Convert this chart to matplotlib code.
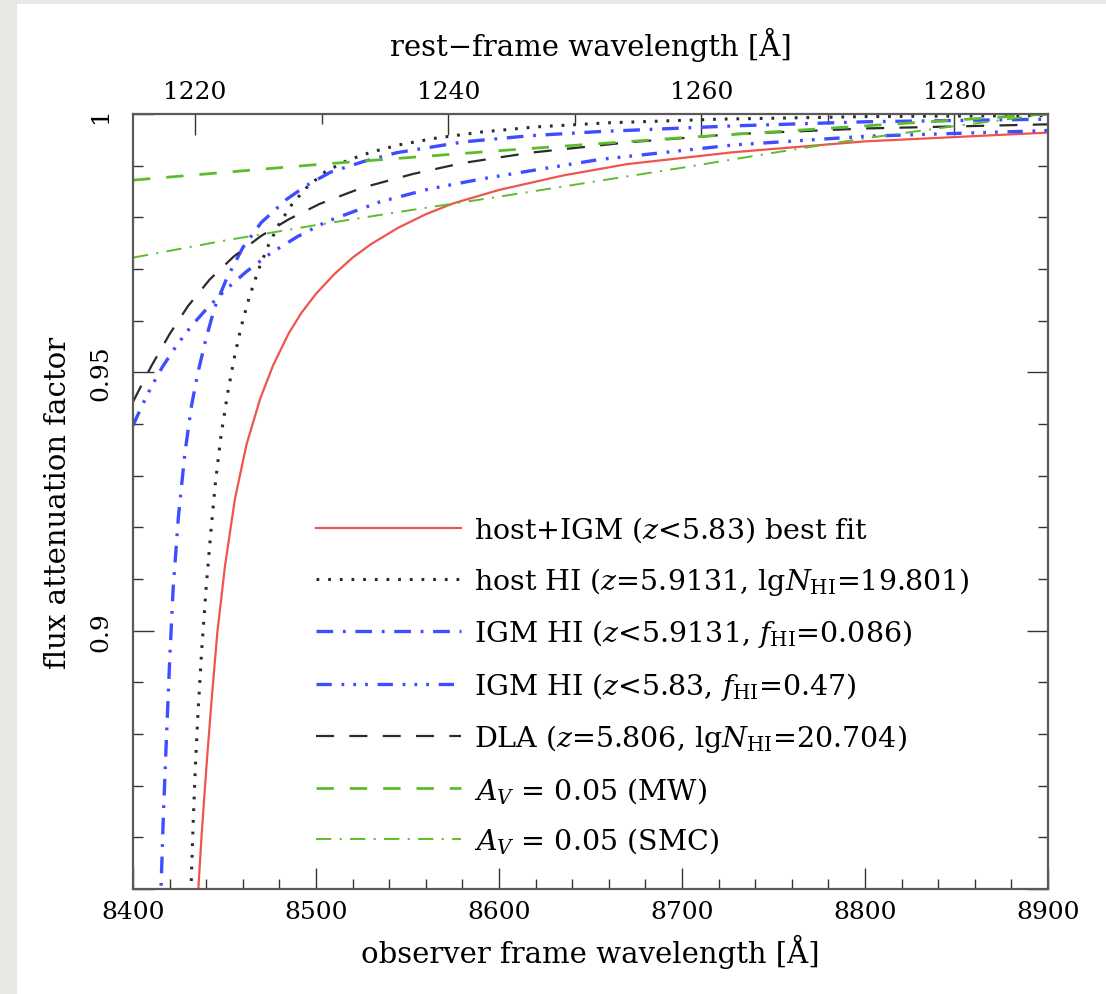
import numpy as np
import matplotlib
matplotlib.use("Agg")
import matplotlib.pyplot as plt
from matplotlib.patches import Rectangle
from matplotlib.ticker import MultipleLocator, FixedLocator

# redshift of the host, used for the rest-frame axis on top
z_host = 5.9131

# observer-frame wavelength [A] and attenuation factor
wl_fit = [8434.8, 8435.7, 8437.5, 8440.3, 8443.0, 8446.1, 8450.3, 8455.7, 8462.0, 8469.5,
          8476.5, 8485.0, 8492.0, 8500.0, 8510.0, 8520.0, 8530.0, 8545.0, 8560.0, 8575.0,
          8600.0, 8635.0, 8670.0, 8728.0, 8800.0, 8900.0]
f_fit = [0.840, 0.850, 0.8605, 0.8745, 0.8868, 0.8997, 0.9126, 0.9255, 0.9360, 0.9449,
         0.9513, 0.9575, 0.9615, 0.9652, 0.9690, 0.9722, 0.9748, 0.9780, 0.9806, 0.9827,
         0.9853, 0.9881, 0.9903, 0.9926, 0.9947, 0.9964]

wl_host = [8431.0, 8431.7, 8432.8, 8434.0, 8435.5, 8437.5, 8440.0, 8442.5, 8445.0, 8448.0,
           8451.5, 8455.0, 8459.0, 8463.5, 8468.5, 8474.0, 8480.0, 8487.0, 8495.0, 8505.0,
           8517.0, 8530.0, 8545.0, 8565.0, 8590.0, 8620.0, 8660.0, 8720.0, 8800.0, 8900.0]
f_host = [0.838, 0.850, 0.862, 0.873, 0.884, 0.896, 0.9085, 0.9190, 0.9285, 0.9375,
          0.9455, 0.9522, 0.9587, 0.9645, 0.9698, 0.9746, 0.9788, 0.9826, 0.9858, 0.9888,
          0.9910, 0.9926, 0.9940, 0.9953, 0.9965, 0.9975, 0.9983, 0.9990, 0.9995, 0.9997]

wl_igm1 = [8414.8, 8415.3, 8416.6, 8418.4, 8420.2, 8422.0, 8424.8, 8428.4, 8432.0, 8435.5,
           8440.1, 8444.6, 8451.0, 8460.1, 8470.1, 8484.0, 8495.0, 8507.7, 8525.9, 8544.0,
           8580.5, 8617.0, 8655.0, 8728.0, 8801.0, 8900.0]
f_igm1 = [0.838, 0.850, 0.8643, 0.8804, 0.8955, 0.9085, 0.9220, 0.9345, 0.9436, 0.9500,
          0.9568, 0.9625, 0.9680, 0.9742, 0.9790, 0.9835, 0.9862, 0.9887, 0.9908, 0.9925,
          0.9946, 0.9958, 0.9966, 0.9977, 0.9985, 0.9990]

wl_igm2 = [8400.0, 8405.0, 8410.0, 8416.0, 8424.0, 8432.0, 8440.0, 8450.0, 8462.0, 8475.0,
           8490.0, 8506.0, 8535.0, 8562.0, 8590.0, 8617.0, 8655.0, 8728.0, 8801.0, 8900.0]
f_igm2 = [0.9397, 0.9436, 0.9472, 0.9510, 0.9553, 0.9590, 0.9622, 0.9658, 0.9695, 0.9730,
          0.9763, 0.9792, 0.9830, 0.9855, 0.9874, 0.9890, 0.9912, 0.9940, 0.9957, 0.9968]

wl_dla = [8400.0, 8410.0, 8420.0, 8430.0, 8442.0, 8455.0, 8470.0, 8485.0, 8502.0, 8525.0,
          8553.0, 8580.0, 8617.0, 8670.0, 8728.0, 8800.0, 8900.0]
f_dla = [0.9443, 0.9512, 0.9574, 0.9628, 0.9680, 0.9724, 0.9764, 0.9796, 0.9826, 0.9857,
         0.9884, 0.9905, 0.9925, 0.9945, 0.9961, 0.9972, 0.9980]

wl_mw = [8400.0, 8500.0, 8600.0, 8700.0, 8800.0, 8900.0]
f_mw = [0.9872, 0.9902, 0.9929, 0.9954, 0.9977, 1.0000]

wl_smc = [8400.0, 8450.0, 8500.0, 8550.0, 8600.0, 8650.0, 8700.0, 8750.0, 8800.0, 8850.0,
          8900.0]
f_smc = [0.9722, 0.9755, 0.9785, 0.9813, 0.9840, 0.9868, 0.9896, 0.9925, 0.9953, 0.9977,
         1.0000]

labels = [
    r'host+IGM ($z$<5.83) best fit',
    r'host HI ($z$=5.9131, lg$N_{\rm HI}$=19.801)',
    r'IGM HI ($z$<5.9131, $f_{\rm HI}$=0.086)',
    r'IGM HI ($z$<5.83, $f_{\rm HI}$=0.47)',
    r'DLA ($z$=5.806, lg$N_{\rm HI}$=20.704)',
    r'$A_V$ = 0.05 (MW)',
    r'$A_V$ = 0.05 (SMC)',
]

plt.rcParams['font.family'] = ['DejaVu Serif']
plt.rcParams['mathtext.fontset'] = 'dejavuserif'
plt.rcParams['lines.scale_dashes'] = False

RED = '#f0544c'
BLUE = '#3d4dff'
GREEN = '#5cbd2c'
BLACK = '#2b2b2b'

fig = plt.figure(figsize=(11.06, 9.95), dpi=100)
fig.patch.set_facecolor('#e9e7e3')
# white sheet on top of the grey paper background
sheet = Rectangle((17 / 1106, 0), 1.0, 990 / 995, transform=fig.transFigure,
                  facecolor='white', edgecolor='none', zorder=-10)
fig.add_artist(sheet)

ax = fig.add_axes([133 / 1106, 105 / 995, 915 / 1106, 775 / 995])
ax.set_zorder(5)
ax.set_facecolor('white')

ax.plot(wl_fit, f_fit, color=RED, lw=1.6, label=labels[0])
ax.plot(wl_host, f_host, color=BLACK, lw=2.2, dashes=(2.0, 6.4), label=labels[1])
ax.plot(wl_igm1, f_igm1, color=BLUE, lw=2.4, dashes=(12, 7, 2, 7), label=labels[2])
ax.plot(wl_igm2, f_igm2, color=BLUE, lw=2.4, dashes=(11, 7, 2, 6.5, 2, 6.5, 2, 7),
        label=labels[3])
ax.plot(wl_dla, f_dla, color=BLACK, lw=1.6, dashes=(13, 11), label=labels[4])
ax.plot(wl_mw, f_mw, color=GREEN, lw=2.0, dashes=(12.5, 11.5), label=labels[5])
ax.plot(wl_smc, f_smc, color=GREEN, lw=1.4, dashes=(11, 6, 1.5, 6), label=labels[6])

ax.set_xlim(8400, 8900)
ax.set_ylim(0.85, 1.0)

for s in ax.spines.values():
    s.set_color('#5a5a5a')
    s.set_linewidth(1.6)

ax.xaxis.set_major_locator(MultipleLocator(100))
ax.xaxis.set_minor_locator(MultipleLocator(20))
ax.yaxis.set_major_locator(FixedLocator([0.85, 0.9, 0.95, 1.0]))
ax.yaxis.set_minor_locator(MultipleLocator(0.01))
ax.set_yticklabels(['', '0.9', '0.95', '1'])

ax.tick_params(which='both', direction='in', top=False, right=True, color='#333333',
               labelsize=18)
ax.tick_params(which='major', length=15, width=1.0, pad=8)
ax.tick_params(which='minor', length=7.5, width=1.0)
ax.tick_params(axis='y', labelrotation=90, pad=15)
for t in ax.get_yticklabels():
    t.set_va('center')

ax.set_xlabel('observer frame wavelength [Å]', fontsize=21, labelpad=8)
ax.set_ylabel('flux attenuation factor', fontsize=21, labelpad=12)

top = ax.secondary_xaxis('top', functions=(lambda x: x / (1 + z_host),
                                           lambda r: r * (1 + z_host)))
top.xaxis.set_major_locator(FixedLocator([1220, 1240, 1260, 1280]))
top.xaxis.set_minor_locator(FixedLocator([1230, 1250, 1270]))
top.tick_params(which='both', direction='in', color='#333333', labelsize=18)
top.tick_params(which='major', length=15, width=1.0, pad=8)
top.tick_params(which='minor', length=7.5, width=1.0)
top.spines['top'].set_visible(False)
top.set_xlabel('rest\u2212frame wavelength [Å]', fontsize=21, labelpad=18)

leg = ax.legend(loc='upper left', bbox_to_anchor=(0.2, 0.483), frameon=False,
                fontsize=20.5, handlelength=5.1, handletextpad=0.46,
                labelspacing=0.72, borderpad=0, borderaxespad=0)

fig.savefig('out.png', dpi=100, facecolor=fig.get_facecolor())
